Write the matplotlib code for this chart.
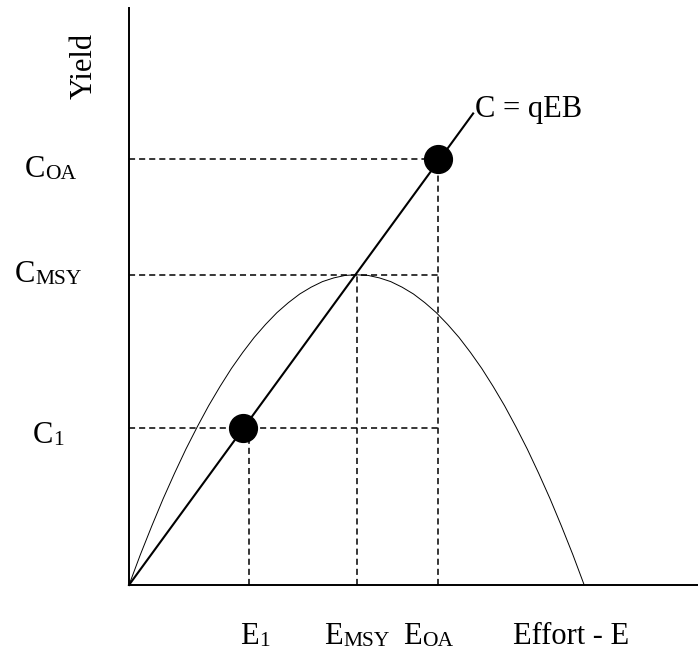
import numpy as np
import matplotlib.pyplot as plt
from matplotlib.transforms import offset_copy

plt.rcParams['font.family'] = ['Liberation Serif']

# effort levels (arbitrary units) and catches
E_1 = 2.64
E_MSY = 5.0
E_OA = 6.79
C_1 = 5.06
C_MSY = 10.0
C_OA = 13.74

# sustainable yield curve
effort = [0, 0.25, 0.5, 0.75, 1, 1.25, 1.5, 1.75, 2, 2.25, 2.5, 2.75, 3, 3.25,
          3.5, 3.75, 4, 4.25, 4.5, 4.75, 5, 5.25, 5.5, 5.75, 6, 6.25, 6.5,
          6.75, 7, 7.25, 7.5, 7.75, 8, 8.25, 8.5, 8.75, 9, 9.25, 9.5, 9.75, 10]
yld = [0, 0.98, 1.9, 2.78, 3.6, 4.38, 5.1, 5.78, 6.4, 6.98, 7.5, 7.98, 8.4,
       8.78, 9.1, 9.38, 9.6, 9.78, 9.9, 9.98, 10, 9.98, 9.9, 9.78, 9.6, 9.38,
       9.1, 8.78, 8.4, 7.98, 7.5, 6.98, 6.4, 5.78, 5.1, 4.38, 3.6, 2.78, 1.9,
       0.98, 0]

# catch line C = qEB
line_E = [0, 7.56]
line_C = [0, 15.2]

# the two marked points
dot_E = [2.5, 6.79]
dot_C = [5.06, 13.74]

fig = plt.figure(figsize=(6.98, 6.52), dpi=100)
ax = fig.add_axes([129/698, 67/652, 569/698, 577/652])
ax.set_xlim(0, 12.5)
ax.set_ylim(0, 18.6)
for s in ['top', 'right']:
    ax.spines[s].set_visible(False)
for s in ['left', 'bottom']:
    ax.spines[s].set_linewidth(1.4)
ax.set_xticks([])
ax.set_yticks([])

dash = dict(color='black', lw=1.1, dashes=(4, 2.6), clip_on=False)
ax.plot([0, E_OA], [C_OA, C_OA], **dash)
ax.plot([0, E_OA], [C_MSY, C_MSY], **dash)
ax.plot([0, E_OA], [C_1, C_1], **dash)
ax.plot([E_1, E_1], [0, C_1], **dash)
ax.plot([E_MSY, E_MSY], [0, C_MSY], **dash)
ax.plot([E_OA, E_OA], [0, C_OA], **dash)

ax.plot(effort, yld, color='black', lw=0.7, clip_on=False)
ax.plot(line_E, line_C, color='black', lw=1.5, clip_on=False)
ax.plot(dot_E, dot_C, 'o', color='black', ms=20, clip_on=False)

fs = 22
fs_sub = 15.5


def sublabel(x, y, main, sub):
    # word-style subscript: smaller, only a little below the baseline
    ax.text(x, y, main, fontsize=fs, va='baseline')
    w = {'C': 0.667, 'E': 0.611}[main] * fs
    tr = offset_copy(ax.transData, fig=fig, x=w, y=-1.5, units='points')
    ax.text(x, y, sub, fontsize=fs_sub, va='baseline', transform=tr)


ax.text(7.6, 15.1, 'C = qEB', fontsize=fs, va='baseline')
ax.text(-0.99, 16.74, 'Yield', fontsize=fs, rotation=90, ha='center', va='center')
sublabel(-2.29, 13.16, 'C', 'OA')
sublabel(-2.51, 9.77, 'C', 'MSY')
sublabel(-2.11, 4.58, 'C', '1')

sublabel(2.44, -1.9, 'E', '1')
sublabel(4.29, -1.9, 'E', 'MSY')
sublabel(6.02, -1.9, 'E', 'OA')
ax.text(8.44, -1.9, 'Effort - E', fontsize=fs, va='baseline')

fig.savefig('out.png', dpi=100)
